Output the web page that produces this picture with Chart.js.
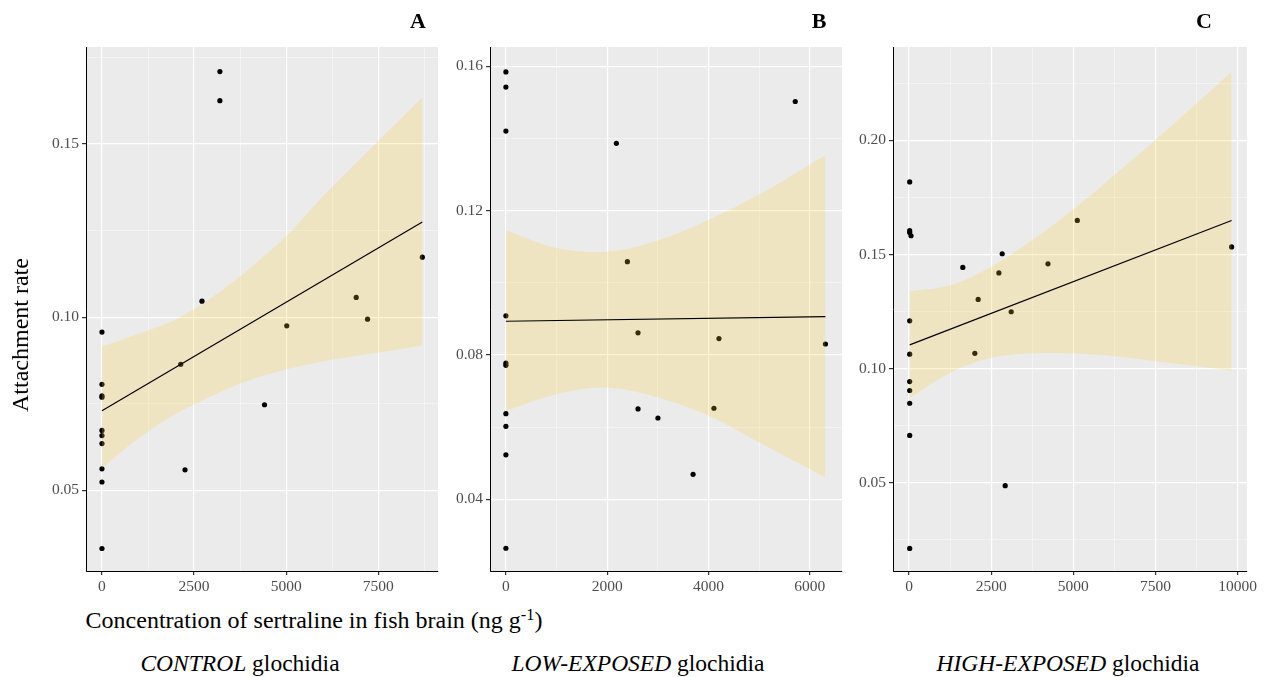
<!DOCTYPE html>
<html>
<head>
<meta charset="utf-8">
<script src="https://cdn.jsdelivr.net/npm/chart.js@4.4.1/dist/chart.umd.min.js"></script>
<style>
  body { margin: 0; background: #fff; }
  #wrap { position: relative; width: 1275px; height: 677px; font-family: "Liberation Serif", "Times New Roman", serif; color: #000; }
  canvas { position: absolute; top: 0; }
  .txt { position: absolute; white-space: nowrap; transform: translate(-50%, -50%); line-height: 1; }
  sup { font-size: 0.68em; vertical-align: 0.5em; line-height: 0; }
</style>
</head>
<body>
<div id="wrap">
  <canvas id="chartA" width="442" height="600" style="left:0px"></canvas>
  <canvas id="chartB" width="402" height="600" style="left:444px"></canvas>
  <canvas id="chartC" width="420" height="600" style="left:847px"></canvas>

  <div class="txt" style="left:418px;top:21px;font-size:22px;font-weight:bold">A</div>
  <div class="txt" style="left:819px;top:21px;font-size:22px;font-weight:bold">B</div>
  <div class="txt" style="left:1204px;top:21px;font-size:22px;font-weight:bold">C</div>

  <div class="txt" style="left:20px;top:335px;font-size:24px;transform:translate(-50%,-50%) rotate(-90deg)">Attachment rate</div>
  <div class="txt" style="left:314px;top:620px;font-size:24px">Concentration of sertraline in fish brain (ng g<sup>-1</sup>)</div>

  <div class="txt" style="left:240px;top:664px;font-size:23.5px"><i>CONTROL</i> glochidia</div>
  <div class="txt" style="left:638px;top:664px;font-size:23.5px"><i>LOW-EXPOSED</i> glochidia</div>
  <div class="txt" style="left:1068px;top:664px;font-size:23.5px"><i>HIGH-EXPOSED</i> glochidia</div>
</div>

<script>
// Panel A - control glochidia
const ctrlConc = [0, 0, 0, 0, 0, 0, 0, 0, 0, 0, 3200, 3200, 2714, 8693, 6899, 7206, 5014, 2137, 4410, 2254];
const ctrlRate = [0.0957, 0.0806, 0.0773, 0.0769, 0.0673, 0.0658, 0.0635, 0.0562, 0.0524, 0.0332,
                  0.1709, 0.1625, 0.1046, 0.1173, 0.1057, 0.0994, 0.0975, 0.0864, 0.0747, 0.0559];
const ctrlFitX = [0, 8693];
const ctrlFitY = [0.0730, 0.1275];
const ctrlBandX = [0, 1000, 2000, 3000, 4000, 5000, 6000, 7000, 8000, 8693];
const ctrlUpper = [0.0915, 0.0952, 0.0993, 0.1058, 0.1140, 0.1234, 0.1350, 0.1456, 0.1562, 0.1635];
const ctrlLower = [0.0564, 0.0650, 0.0720, 0.0773, 0.0818, 0.0849, 0.0872, 0.0890, 0.0906, 0.0918];

// Panel B - low-exposed glochidia
const lowConc = [0, 0, 0, 0, 0, 0, 0, 0, 0, 0, 2181, 5712, 2398, 2608, 4206, 6308, 2608, 3001, 4107, 3695];
const lowRate = [0.1584, 0.1542, 0.1420, 0.0908, 0.0777, 0.0771, 0.0637, 0.0602, 0.0523, 0.0264,
                 0.1386, 0.1502, 0.1058, 0.0861, 0.0845, 0.0830, 0.0650, 0.0625, 0.0652, 0.0469];
const lowFitX = [0, 6308];
const lowFitY = [0.0893, 0.0906];
const lowBandX = [0, 1000, 2000, 3000, 4000, 5000, 6308];
const lowUpper = [0.1146, 0.1096, 0.1086, 0.1117, 0.1174, 0.1244, 0.1353];
const lowLower = [0.0645, 0.0691, 0.0709, 0.0682, 0.0631, 0.0557, 0.0460];

// Panel C - high-exposed glochidia
const highConc = [20, 20, 20, 60, 20, 20, 20, 20, 20, 20, 20, 1637, 2836, 2735, 4229, 5122, 9818, 2104, 3110, 2003, 2927];
const highRate = [0.1818, 0.1604, 0.1596, 0.1582, 0.1209, 0.1063, 0.0943, 0.0904, 0.0848, 0.0707, 0.0212,
                  0.1443, 0.1503, 0.1419, 0.1459, 0.1649, 0.1533, 0.1303, 0.1249, 0.1067, 0.0487];
const highFitX = [20, 9818];
const highFitY = [0.1104, 0.1649];
const highBandX = [20, 1250, 2500, 3750, 5000, 6250, 7500, 8750, 9818];
const highUpper = [0.1339, 0.1365, 0.1446, 0.1563, 0.1697, 0.1848, 0.2001, 0.2162, 0.2301];
const highLower = [0.0871, 0.0981, 0.1047, 0.1066, 0.1066, 0.1054, 0.1032, 0.1010, 0.0991];

// Tick values (major get labels, minor only grid lines)
const xMajorA = [0, 2500, 5000, 7500], xMinorA = [1250, 3750, 6250, 8750];
const yMajorA = [0.05, 0.10, 0.15], yMinorA = [0.075, 0.125, 0.175];
const xMajorB = [0, 2000, 4000, 6000], xMinorB = [1000, 3000, 5000];
const yMajorB = [0.04, 0.08, 0.12, 0.16], yMinorB = [0.06, 0.10, 0.14];
const xMajorC = [0, 2500, 5000, 7500, 10000], xMinorC = [1250, 3750, 6250, 8750];
const yMajorC = [0.05, 0.10, 0.15, 0.20], yMinorC = [0.025, 0.075, 0.125, 0.175, 0.225];

Chart.defaults.font.family = '"Liberation Serif", "Times New Roman", serif';
Chart.defaults.animation = false;

function pts(xs, ys) {
  return xs.map((x, i) => ({ x: x, y: ys[i] }));
}

function isMajor(list, v) {
  return list.some(m => Math.abs(m - v) < 1e-9);
}

// grey panel background like ggplot
const panelBg = {
  id: 'panelBg',
  beforeDraw(chart) {
    const { ctx, chartArea: a } = chart;
    ctx.save();
    ctx.fillStyle = '#EBEBEB';
    ctx.fillRect(a.left, a.top, a.right - a.left, a.bottom - a.top);
    ctx.restore();
  }
};

function axis(range, major, minor, fmt, fit) {
  return {
    type: 'linear',
    min: range[0],
    max: range[1],
    afterBuildTicks: s => {
      s.ticks = major.concat(minor).sort((a, b) => a - b).map(v => ({ value: v }));
    },
    afterFit: fit,
    ticks: {
      autoSkip: false,
      maxRotation: 0,
      color: '#4D4D4D',
      font: { size: 15.5 },
      padding: 3,
      callback: v => isMajor(major, v) ? fmt(v) : ''
    },
    grid: {
      color: c => (c.tick && isMajor(major, c.tick.value)) ? '#FFFFFF' : 'rgba(255,255,255,0.7)',
      lineWidth: c => (c.tick && isMajor(major, c.tick.value)) ? 1.2 : 0.6,
      tickLength: 4,
      tickColor: c => (c.tick && isMajor(major, c.tick.value)) ? '#333333' : 'rgba(0,0,0,0)'
    },
    border: { display: true, color: '#000000', width: 1 }
  };
}

function createPanel(id, o) {
  new Chart(document.getElementById(id), {
    type: 'scatter',
    data: {
      datasets: [
        { type: 'line', data: pts(o.fitX, o.fitY), borderColor: '#000000', borderWidth: 1.2,
          pointRadius: 0, fill: false, order: 1 },
        { type: 'line', data: pts(o.bandX, o.lower), borderColor: 'rgba(0,0,0,0)', borderWidth: 0,
          pointRadius: 0, fill: false, tension: 0.35, order: 2 },
        { type: 'line', data: pts(o.bandX, o.upper), borderColor: 'rgba(0,0,0,0)', borderWidth: 0,
          pointRadius: 0, fill: '-1', backgroundColor: 'rgba(255,204,51,0.22)', tension: 0.35, order: 2 },
        { type: 'scatter', data: pts(o.conc, o.rate), backgroundColor: '#000000', borderColor: '#000000',
          pointRadius: 2.6, pointBorderWidth: 0, order: 3 }
      ]
    },
    options: {
      responsive: false,
      events: [],
      layout: { padding: { top: 47, right: o.padRight, left: 0, bottom: 0 } },
      plugins: { legend: { display: false }, tooltip: { enabled: false } },
      scales: {
        x: axis(o.xRange, o.xMajor, o.xMinor, v => String(v), s => { s.height = 29; }),
        y: axis(o.yRange, o.yMajor, o.yMinor, v => v.toFixed(2), s => { s.width = o.yWidth; })
      }
    },
    plugins: [panelBg]
  });
}

createPanel('chartA', {
  conc: ctrlConc, rate: ctrlRate, fitX: ctrlFitX, fitY: ctrlFitY,
  bandX: ctrlBandX, upper: ctrlUpper, lower: ctrlLower,
  xRange: [-433, 9118], yRange: [0.0267, 0.178],
  xMajor: xMajorA, xMinor: xMinorA, yMajor: yMajorA, yMinor: yMinorA,
  yWidth: 86, padRight: 2
});

createPanel('chartB', {
  conc: lowConc, rate: lowRate, fitX: lowFitX, fitY: lowFitY,
  bandX: lowBandX, upper: lowUpper, lower: lowLower,
  xRange: [-314, 6635], yRange: [0.0201, 0.1653],
  xMajor: xMajorB, xMinor: xMinorB, yMajor: yMajorB, yMinor: yMinorB,
  yWidth: 46, padRight: 2
});

createPanel('chartC', {
  conc: highConc, rate: highRate, fitX: highFitX, fitY: highFitY,
  bandX: highBandX, upper: highUpper, lower: highLower,
  xRange: [-488, 10287], yRange: [0.0113, 0.2409],
  xMajor: xMajorC, xMinor: xMinorC, yMajor: yMajorC, yMinor: yMinorC,
  yWidth: 46, padRight: 20
});
</script>
</body>
</html>
